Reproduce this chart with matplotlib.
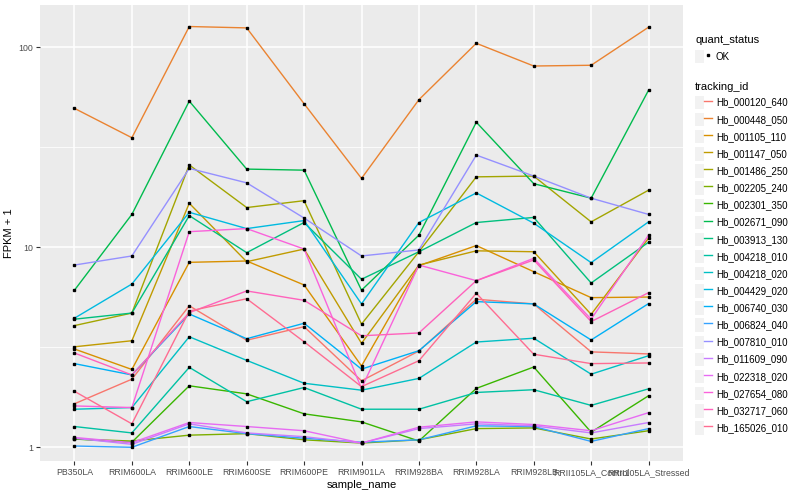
import matplotlib
matplotlib.use("Agg")
import matplotlib.pyplot as plt
from matplotlib.lines import Line2D
from matplotlib.patches import Rectangle
from matplotlib.legend_handler import HandlerTuple

plt.rcParams['font.family'] = ['Liberation Sans', 'DejaVu Sans']

samples = ["PB350LA", "RRIM600LA", "RRIM600LE", "RRIM600SE", "RRIM600PE", "RRIM901LA",
           "RRIM928BA", "RRIM928LA", "RRIM928LB", "RRII105LA_Control", "RRII105LA_Stressed"]

tracking_ids = ["Hb_000120_640", "Hb_000448_050", "Hb_001105_110", "Hb_001147_050",
                "Hb_001486_250", "Hb_002205_240", "Hb_002301_350", "Hb_002671_090",
                "Hb_003913_130", "Hb_004218_010", "Hb_004218_020", "Hb_004429_020",
                "Hb_006740_030", "Hb_006824_040", "Hb_007810_010", "Hb_011609_090",
                "Hb_022318_020", "Hb_027654_080", "Hb_032717_060", "Hb_165026_010"]

# FPKM + 1, one list per gene, same order as samples
fpkm_000120_640 = [1.65, 2.19, 5.10, 3.43, 4.01, 2.15, 3.03, 5.50, 5.21, 3.00, 2.93]
fpkm_000448_050 = [49.5, 35.3, 127, 125, 52.2, 22.1, 54.7, 104.7, 80.6, 81.3, 126]
fpkm_001105_110 = [3.10, 2.45, 8.41, 8.54, 6.48, 2.55, 8.09, 10.2, 7.55, 5.60, 5.64]
fpkm_001147_050 = [3.18, 3.41, 16.6, 8.47, 9.8, 3.31, 8.15, 9.6, 9.5, 4.62, 11.1]
fpkm_001486_250 = [4.06, 4.69, 25.8, 15.8, 17.1, 4.13, 9.5, 22.5, 22.7, 13.4, 19.3]
fpkm_002205_240 = [1.10, 1.075, 1.15, 1.17, 1.09, 1.05, 1.09, 1.24, 1.25, 1.10, 1.21]
fpkm_002301_350 = [1.10, 1.06, 2.03, 1.85, 1.47, 1.34, 1.075, 1.97, 2.52, 1.19, 1.81]
fpkm_002671_090 = [6.1, 14.6, 53.8, 24.6, 24.3, 6.1, 11.5, 42.2, 20.8, 17.6, 61]
fpkm_003913_130 = [4.37, 4.69, 14.4, 9.4, 13.3, 6.92, 9.5, 13.3, 14.1, 6.63, 10.6]
fpkm_004218_010 = [1.27, 1.18, 2.51, 1.69, 1.99, 1.55, 1.55, 1.88, 1.94, 1.62, 1.96]
fpkm_004218_020 = [1.55, 1.58, 3.57, 2.72, 2.09, 1.93, 2.21, 3.36, 3.51, 2.32, 2.87]
fpkm_004429_020 = [4.42, 6.55, 14.96, 12.4, 13.6, 5.21, 13.3, 18.7, 13.2, 8.38, 13.4]
fpkm_006740_030 = [2.62, 2.30, 4.64, 3.49, 4.17, 2.46, 3.04, 5.35, 5.21, 3.44, 5.23]
fpkm_006824_040 = [1.015, 1.0, 1.27, 1.17, 1.11, 1.06, 1.09, 1.28, 1.27, 1.07, 1.24]
fpkm_007810_010 = [8.15, 9.05, 24.8, 21.0, 14.0, 9.05, 9.7, 28.9, 22.7, 17.6, 14.6]
fpkm_011609_090 = [1.11, 1.035, 1.31, 1.18, 1.13, 1.05, 1.24, 1.31, 1.28, 1.18, 1.33]
fpkm_022318_020 = [1.12, 1.055, 1.33, 1.27, 1.21, 1.05, 1.26, 1.34, 1.30, 1.21, 1.49]
fpkm_027654_080 = [1.61, 1.58, 11.97, 12.4, 9.8, 1.97, 8.15, 6.81, 8.81, 4.37, 11.5]
fpkm_032717_060 = [2.96, 2.30, 4.71, 6.05, 5.43, 3.61, 3.73, 6.81, 8.64, 4.25, 5.93]
fpkm_165026_010 = [1.905, 1.31, 4.8, 5.53, 3.37, 2.01, 2.71, 5.89, 2.92, 2.62, 2.64]

series = [fpkm_000120_640, fpkm_000448_050, fpkm_001105_110, fpkm_001147_050,
          fpkm_001486_250, fpkm_002205_240, fpkm_002301_350, fpkm_002671_090,
          fpkm_003913_130, fpkm_004218_010, fpkm_004218_020, fpkm_004429_020,
          fpkm_006740_030, fpkm_006824_040, fpkm_007810_010, fpkm_011609_090,
          fpkm_022318_020, fpkm_027654_080, fpkm_032717_060, fpkm_165026_010]

# ggplot hue palette, 20 levels
colours = ["#F8766D", "#EA8331", "#D89000", "#C09B00", "#A3A500", "#7CAE00", "#39B600",
           "#00BB4E", "#00BF7D", "#00C1A3", "#00BFC4", "#00BAE0", "#00B0F6", "#35A2FF",
           "#9590FF", "#C77CFF", "#E76BF3", "#FA62DB", "#FF62BC", "#FF6C91"]

fig = plt.figure(figsize=(8, 5), dpi=100)
ax = fig.add_axes([40 / 800, 1 - 461 / 500, 643 / 800, 456 / 500])
ax.set_facecolor("#EBEBEB")

x = list(range(len(samples)))
for vals, col in zip(series, colours):
    ax.plot(x, vals, color=col, lw=1.0, zorder=2)
for vals in series:
    ax.plot(x, vals, ls="none", marker="s", ms=2.1, color="black", zorder=3)

ax.set_yscale("log")
ax.set_ylim(0.854, 162.7)
ax.set_xlim(-0.6, len(samples) - 0.4)
ax.set_yticks([1, 10, 100])
ax.set_yticklabels(["1", "10", "100"])
ax.set_yticks([10 ** 0.5, 10 ** 1.5], minor=True)
ax.yaxis.set_minor_formatter(plt.NullFormatter())
ax.set_xticks(x)
ax.set_xticklabels(samples)

ax.grid(True, which="major", color="white", lw=1.1, zorder=0)
ax.grid(True, which="minor", axis="y", color="white", lw=0.55, zorder=0)
ax.set_axisbelow(True)
for s in ax.spines.values():
    s.set_visible(False)
ax.tick_params(which="major", length=3, color="#333333", labelcolor="#4D4D4D",
               labelsize=6.3, pad=2)
ax.tick_params(which="minor", length=0)
ax.set_xlabel("sample_name", fontsize=8, labelpad=2)
ax.set_ylabel("FPKM + 1", fontsize=8, labelpad=3)

# legends
ok_handle = Line2D([], [], ls="none", marker="s", ms=2.1, color="black")
box = Rectangle((0, 0), 1, 1, facecolor="#F2F2F2", edgecolor="none")
leg1 = fig.legend([(box, ok_handle)], ["OK"], title="quant_status",
                  handler_map={tuple: HandlerTuple(ndivide=None, pad=0)},
                  loc="upper left", bbox_to_anchor=(695 / 800, 1 - 35 / 500),
                  frameon=False, fontsize=7, title_fontsize=8, handlelength=1.75,
                  handleheight=1.75, handletextpad=0.4, borderpad=0, borderaxespad=0,
                  alignment="left")

handles = []
for col in colours:
    handles.append((Rectangle((0, 0), 1, 1, facecolor="#F2F2F2", edgecolor="none"),
                    Line2D([], [], color=col, lw=1.0)))
leg2 = fig.legend(handles, tracking_ids, title="tracking_id",
                  handler_map={tuple: HandlerTuple(ndivide=None, pad=0)},
                  loc="upper left", bbox_to_anchor=(695 / 800, 1 - 82 / 500),
                  frameon=False, fontsize=7, title_fontsize=8, handlelength=1.75,
                  handleheight=1.75, handletextpad=0.4, labelspacing=0.38,
                  borderpad=0, borderaxespad=0, alignment="left")

fig.savefig("out.png", dpi=100)
